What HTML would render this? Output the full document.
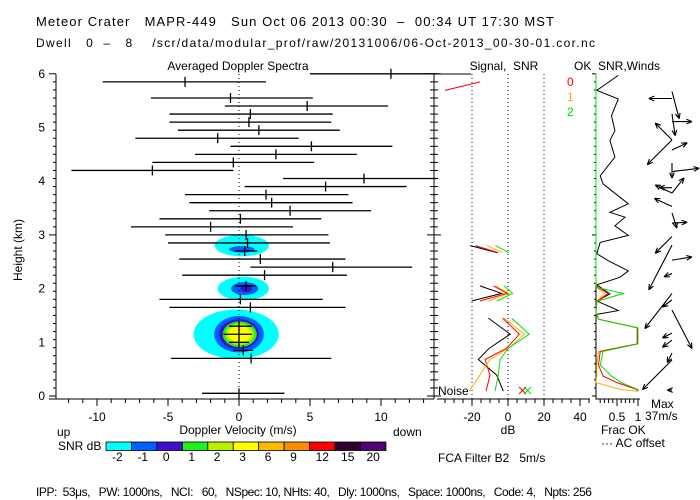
<!DOCTYPE html>
<html><head><meta charset="utf-8"><style>
html,body{margin:0;padding:0;background:#fff;}
svg{display:block;font-family:"Liberation Sans",sans-serif;}
text{font-size:12px;fill:#000;white-space:pre;}
</style></head><body>
<svg id="c" width="700" height="500" viewBox="0 0 700 500" xmlns="http://www.w3.org/2000/svg" xml:space="preserve">
<text x="36" y="26" style="font-size:13px" textLength="518" lengthAdjust="spacing">Meteor Crater   MAPR-449   Sun Oct 06 2013 00:30  –  00:34 UT 17:30 MST</text>
<text x="36" y="47" style="font-size:12px" textLength="559" lengthAdjust="spacing">Dwell   0  –   8    /scr/data/modular_prof/raw/20131006/06-Oct-2013_00-30-01.cor.nc</text>
<text x="238" y="70" text-anchor="middle">Averaged Doppler Spectra</text>
<text x="504" y="70" text-anchor="middle">Signal,  SNR</text>
<text x="574" y="70">OK  SNR,Winds</text>
<text x="567" y="86" style="fill:#ff0000">0</text>
<text x="567" y="101" style="fill:#ffb000">1</text>
<text x="567" y="116" style="fill:#00e000">2</text>
<text x="22" y="250" transform="rotate(-90 22 250)" text-anchor="middle">Height (km)</text>
<text x="238" y="434" text-anchor="middle">Doppler Velocity (m/s)</text>
<text x="57" y="436">up</text>
<text x="393" y="436">down</text>
<text x="58" y="450">SNR dB</text>
<text x="508" y="434" text-anchor="middle">dB</text>
<text x="438" y="462">FCA Filter B2   5m/s</text>
<text x="601" y="434">Frac OK</text>
<text x="601" y="447">··· AC offset</text>
<text x="651" y="408">Max</text>
<text x="645" y="420">37m/s</text>
<text x="438" y="395">Noise</text>
<text x="36" y="496" textLength="556" lengthAdjust="spacing">IPP:  53μs,   PW: 1000ns,   NCI:   60,   NSpec: 10, NHts: 40,   Dly: 1000ns,   Space: 1000ns,   Code: 4,   Npts: 256</text>
</svg>
<script>
// ---- data ----
const heightTicks=[0,1,2,3,4,5,6];
const velTicks=[-10,-5,0,5,10];
const dbTicks=[-20,0,20,40];
const fracTicks=[0.5,1];
const cbLabels=["-2","-1","0","1","2","3","6","9","12","15","20"];
const cbColors=["#00ffff","#0060ff","#4010c8","#20f020","#b8f000","#ffff00","#ffb800","#ff8c00","#ff0000","#300030","#500070"];
// spectra blobs (velocity m/s, height km, half-widths, colour level)
const blobV=[-0.2,0.0,0.0,0.05,0.05,0.05, 0.3,0.4,0.5, 0.2,0.2];
const blobH=[1.15,1.15,1.15,1.15,1.15,1.15, 2.0,2.0,2.0, 2.8,2.73];
const blobRV=[3.0,1.75,1.4,1.2,1.0,0.8, 1.8,0.95,0.4, 1.9,0.9];
const blobRH=[0.46,0.34,0.28,0.24,0.2,0.16, 0.22,0.12,0.07, 0.2,0.06];
const blobLevel=[0,1,2,3,4,5, 0,1,2, 0,1];
// error bars
const ebH=[6.0,5.85,5.55,5.4,5.25,5.1,4.95,4.8,4.65,4.5,4.35,4.2,4.05,3.9,3.75,3.6,3.45,3.3,3.15,3.0,2.85,2.7,2.55,2.4,2.25,2.05,1.8,1.65,1.3,1.15,1.0,0.85,0.7,0.05];
const ebL=[5.0,-9.6,-6.2,-1.0,-4.9,-4.9,-4.3,-7.3,-0.6,-3.1,-6.1,-11.8,3.1,0.4,-3.8,-3.5,-2.1,-5.6,-7.6,-5.2,-5.0,-0.3,-4.2,0.8,-4.0,-0.3,-5.6,-4.9,-0.7,-1.1,-0.7,-0.4,-4.8,-2.6];
const ebC=[10.7,-3.8,-0.6,4.8,0.8,0.7,1.4,-1.5,5.1,2.6,-0.4,-6.1,8.8,6.1,1.9,2.3,3.6,0.1,-2.0,0.5,0.6,0.4,1.5,6.6,1.8,0.5,0.1,0.8,0,0,0,0.3,0.85,0];
const ebR=[14.0,1.9,5.2,10.5,6.6,6.5,7.1,4.2,10.8,8.3,5.3,-0.4,14.0,11.8,7.7,8.0,9.3,5.8,3.8,6.3,6.4,1.3,7.5,12.2,7.6,1.2,5.9,7.5,0.9,0.9,0.7,1.0,6.5,3.2];
// signal / SNR profiles (null = gap)
const sigH=[5.69,5.85,null,2.8,2.67,null,2.05,1.91,1.77,null,1.45,1.15,0.89,0.68,0.39,0.09];
const sigBlack=[null,null,null,-21,-6,null,-15.6,-3.5,-20.2,null,-10.9,1.2,-10.4,-16.5,-6.3,-2.6];
const sigRed=[-35,-15.5,null,-18,-5.5,null,-8.1,-0.4,-15.6,null,-3.0,6.3,-0.7,-12.8,-10,-12.2];
const sigOrange=[null,null,null,-11.7,-3,null,-6.9,0.7,-10.9,null,-2.2,9.1,0.2,-10,-15.6,-21.5];
const sigGreen=[null,null,null,-7,0.5,null,-2.2,2.6,-6.3,null,2.0,11.8,0.2,-4.4,-5.4,-7.2];
// frac OK
const okH=[5.97,5.69,5.53,5.22,4.94,4.76,4.45,4.1,3.95,3.58,3.42,3.33,3.17,2.99,2.86,2.65,2.52,2.33,2.21,2.07,1.9,1.77,1.59,1.52];
const okBlack=[0.53,0.02,0.53,0.37,0.45,0.33,0.45,0.1,0.17,0.77,0.33,0.69,0.45,0.77,0.1,0.02,0.29,0.77,0.57,0.02,0.33,0.02,0.53,0.02];
const okColH=[6.0,2.1,2.02,1.91,1.76,1.55,1.43,1.27,0.97,0.83,0.58,0.37,0.25,0.12,0.09];
const okRed=[0,0,0.05,0.29,0.02,0,0.06,0.98,0.98,0.1,0.06,0.17,0.5,0.98,0.98];
const okOrange=[0,0,0.02,0.2,0.02,0,0.06,0.98,0.98,0.06,0.02,0.02,0,0.6,0.98];
const okGreen=[0,0,0.02,0.65,0.02,0,0.06,1.0,1.0,0.17,0.1,0.37,0.6,1.0,1.0];
// winds (m/s, v positive = north/up)
const windH=[5.67,5.54,5.25,5.11,4.77,4.77,4.58,4.34,4.18,3.88,3.78,3.78,3.53,3.41,3.22,2.97,2.81,2.53,2.28,1.91,1.79,1.6,1.17,1.04,0.8,0.67,0.11];
const windU=[9,-29,4,25,-21,-31,19,0,34,-16,-21,15,-22,6,19,-21,-29,25,-10,-34,-12,25,-12,-12,-6,-37,-6];
const windV=[-34,0,-27,0,21,-31,9,-19,4,0,10,19,10,-19,1,-21,-56,4,-4,-44,-9,-48,-6,-9,-12,-37,0];
const windScale=0.8;

// ---- axes ----
const NS="http://www.w3.org/2000/svg";
const svg=document.getElementById('c');
const yOf=h=>396-53.7*h;
const xV=v=>239+14.2*v;
const xDb=d=>508+1.8*d;
const xF=f=>596+42*f;
function mk(tag,attrs,parent){const e=document.createElementNS(NS,tag);for(const k in attrs)e.setAttribute(k,attrs[k]);(parent||svg).appendChild(e);return e;}

const blobG=mk('g',{});


for(let i=0;i<blobV.length;i++){
  const e=mk('ellipse',{cx:xV(blobV[i]),cy:yOf(blobH[i]),rx:blobRV[i]*14.2,ry:blobRH[i]*53.7,fill:cbColors[blobLevel[i]]},blobG);
  
  
}
mk('line',{x1:xV(0),x2:xV(0),y1:74,y2:399,stroke:'#000','stroke-dasharray':'1 3'});
const fr=mk('path',{d:'M56 74 V399 M49 399 H434 M434 74 V399',stroke:'#000',fill:'none'});


for(let h=0;h<=6.001;h+=0.15){const y=yOf(h);const maj=Math.abs(h-Math.round(h))<0.01;
  mk('line',{x1:56,x2:maj?49:53,y1:y,y2:y,stroke:'#000'});mk('line',{x1:434,x2:maj?427:430,y1:y,y2:y,stroke:'#000'});mk('line',{x1:434,x2:maj?441:438,y1:y,y2:y,stroke:'#000'});}
heightTicks.forEach(h=>{const t=mk('text',{x:45,y:yOf(h)+4,'text-anchor':'end'});t.textContent=h;
  
  });
for(let v=-12;v<=13;v++){mk('line',{x1:xV(v),x2:xV(v),y1:399,y2:v%5===0?406:403,stroke:'#000'});}
velTicks.forEach(v=>{const t=mk('text',{x:xV(v),y:421,'text-anchor':'middle'});t.textContent=v;
  
  });
for(let i=0;i<ebH.length;i++){const y=yOf(ebH[i]);const x1=Math.max(56,xV(ebL[i])),x2=Math.min(445,xV(ebR[i]));
  const g=mk('g',{stroke:'#000','stroke-width':1.3});
  
  
  mk('line',{x1:x1,x2:x2,y1:y,y2:y},g);mk('line',{x1:xV(ebC[i]),x2:xV(ebC[i]),y1:y-5,y2:y+5},g);}
cbColors.forEach((c,i)=>{const r=mk('rect',{x:106+i*25.45,y:442,width:25.45,height:8.5,fill:c,stroke:'#000','stroke-width':0.8});
  
  
  const t=mk('text',{x:112+i*25.45,y:461});t.textContent=cbLabels[i];
  
  });

const sp=mk('path',{d:'M434 74 H471 M437 399 H590',stroke:'#000',fill:'none'});


dbTicks.slice(0,3).forEach(d=>mk('line',{x1:xDb(d),x2:xDb(d),y1:74,y2:399,stroke:'#000','stroke-dasharray':'1 3'}));
for(let d=-35;d<=45;d+=5){mk('line',{x1:xDb(d),x2:xDb(d),y1:399,y2:d%20===0?406:403,stroke:'#000'});}
dbTicks.forEach(d=>{const t=mk('text',{x:xDb(d),y:421,'text-anchor':'middle'});t.textContent=d;
  
  });
function seriesPath(H,X,fx){let d='',pen=false;for(let i=0;i<H.length;i++){if(H[i]===null||X[i]===null){pen=false;continue;}d+=(pen?'L':'M')+fx(X[i]).toFixed(1)+' '+yOf(H[i]).toFixed(1);pen=true;}return d;}
[[sigBlack,'#000','signal-black'],[sigRed,'#ff0000','snr-0'],[sigOrange,'#ffb000','snr-1'],[sigGreen,'#00e000','snr-2']].forEach(s=>{
  const p=mk('path',{d:seriesPath(sigH,s[0],xDb),stroke:s[1],fill:'none'});
  
  });
const nx1=mk('path',{d:'M519 394 l7 -7 M519 387 l7 7',stroke:'#ff0000',fill:'none'});


const nx2=mk('path',{d:'M524 394 l7 -7 M524 387 l7 7',stroke:'#00e000',fill:'none'});



const fp=mk('path',{d:'M596 74 V399 H640',stroke:'#000',fill:'none'});


for(let h=0;h<=6.001;h+=0.15){const y=yOf(h);const maj=Math.abs(h-Math.round(h))<0.01;mk('line',{x1:596,x2:maj?592:594,y1:y,y2:y,stroke:'#000'});}
for(let f=0.1;f<=1.001;f+=0.1){mk('line',{x1:xF(f),x2:xF(f),y1:399,y2:(Math.abs(f-0.5)<0.01||f>0.99)?406:403,stroke:'#000'});}
fracTicks.forEach(f=>{const t=mk('text',{x:xF(f),y:421,'text-anchor':'middle'});t.textContent=f;
  
  });
[[okBlack,okH,'#000','ok-snr-black'],[okOrange,okColH,'#ffb000','ok-frac-1'],[okRed,okColH,'#ff0000','ok-frac-0'],[okGreen,okColH,'#00e000','ok-frac-2']].forEach(s=>{
  const p=mk('path',{d:seriesPath(s[1],s[0],xF),stroke:s[2],fill:'none'});
  
  });

for(let i=0;i<windH.length;i++){const x0=672,y0=yOf(windH[i]);const x1=x0+windU[i]*windScale,y1=y0-windV[i]*windScale;
  const a=Math.atan2(y1-y0,x1-x0),L=6;
  const d=`M${x0} ${y0}L${x1} ${y1}M${x1} ${y1}L${x1-L*Math.cos(a-0.4)} ${y1-L*Math.sin(a-0.4)}M${x1} ${y1}L${x1-L*Math.cos(a+0.4)} ${y1-L*Math.sin(a+0.4)}`;
  const p=mk('path',{d:d,stroke:'#000',fill:'none','stroke-width':1.1});
  
  }
</script>
</body></html>
